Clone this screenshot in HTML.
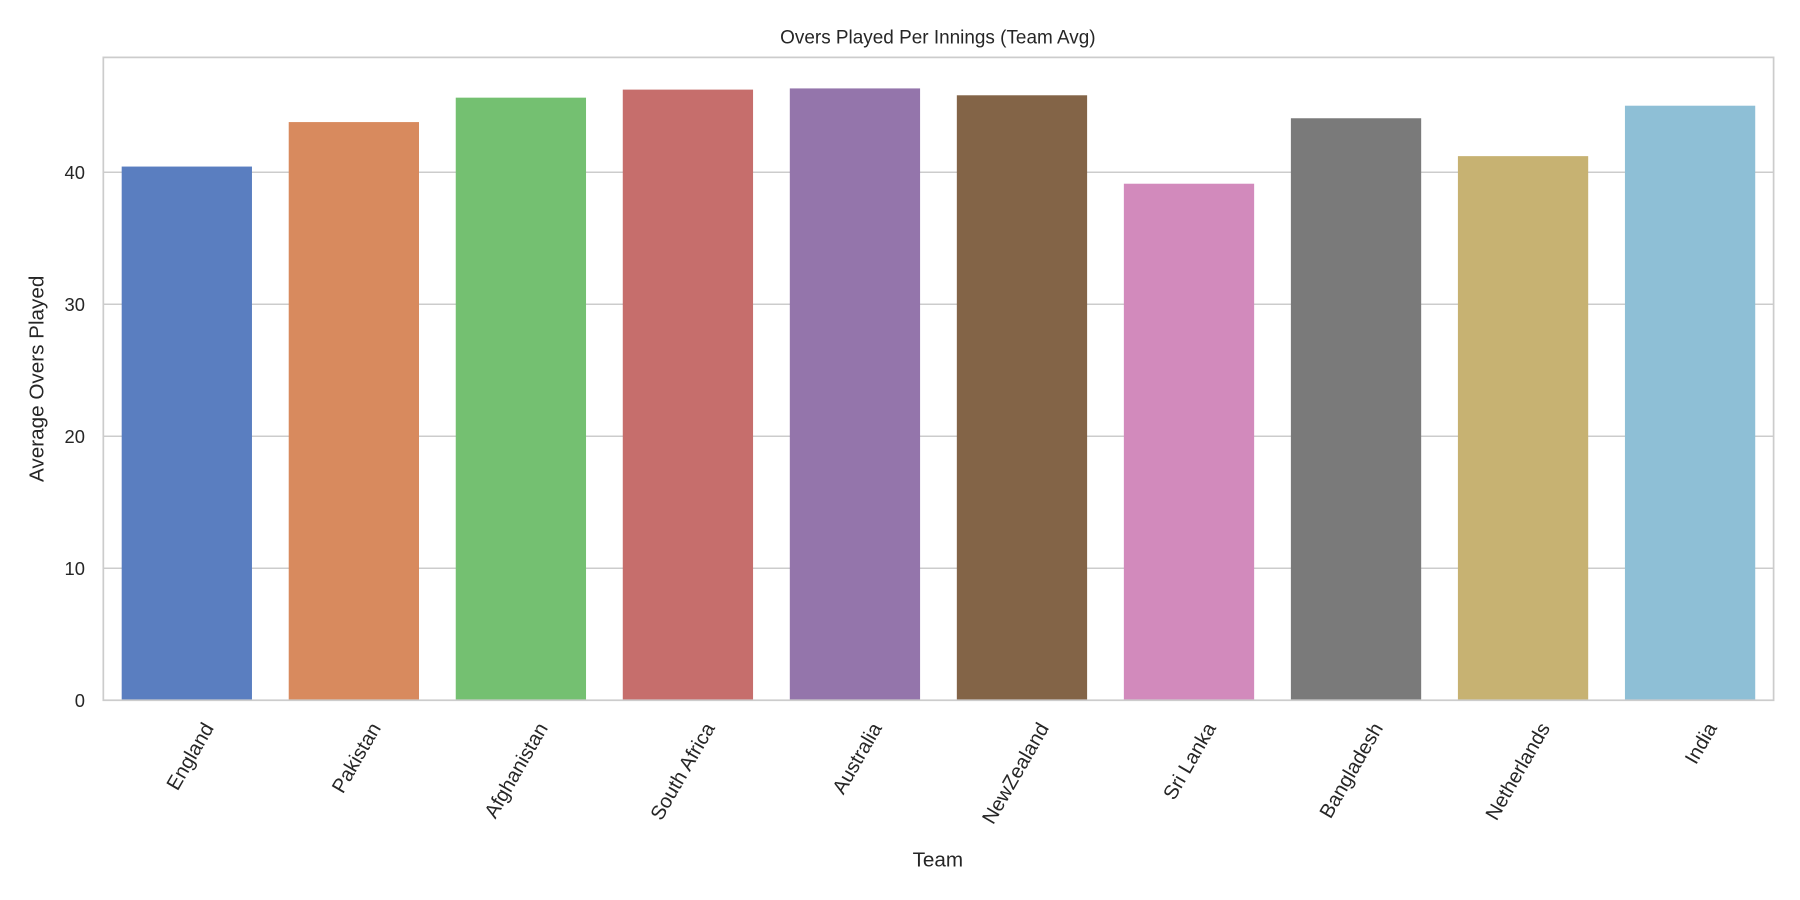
<!DOCTYPE html>
<html><head><meta charset="utf-8"><style>
html,body{margin:0;padding:0;background:#fff;}
svg{display:block;font-family:"Liberation Sans",Arial,sans-serif;}
</style></head><body>
<svg id="chart" width="1800" height="900" viewBox="0 0 1568 784" xmlns="http://www.w3.org/2000/svg">
<rect width="1568" height="784" fill="#fff"/>
<g id="grid"></g>
<g id="bars"></g>
<rect x="90" y="50" width="1455" height="560" fill="none" stroke="#cccccc" stroke-width="1.5"/>
<g id="yticks"></g>
<g id="xticks"></g>
<text x="817" y="38" text-anchor="middle" font-size="16.5" fill="#262626">Overs Played Per Innings (Team Avg)</text>
<text transform="translate(38,330) rotate(-90)" text-anchor="middle" font-size="18" fill="#262626">Average Overs Played</text>
<text x="817" y="755" text-anchor="middle" font-size="18" fill="#262626">Team</text>
</svg>
<script>
const categories = ["England","Pakistan","Afghanistan","South Africa","Australia","NewZealand","Sri Lanka","Bangladesh","Netherlands","India"];
const values = [40.43,43.8,45.65,46.26,46.35,45.83,39.13,44.09,41.22,45.04];
const colors = ["#5a7ec0","#d88a5e","#74c071","#c66e6c","#9475ab","#836447","#d28abc","#7a7a7a","#c7b272","#8ebfd6"];
const yTicks = [0,10,20,30,40];
const NS="http://www.w3.org/2000/svg";
const L=90,R=1545,T=50,B=610,YMAX=48.7;
function y(v){return B-(v/YMAX)*(B-T);}
const slot=(R-L)/categories.length;
function x(i){return L+slot*i;}
const grid=document.getElementById('grid'),bars=document.getElementById('bars'),yt=document.getElementById('yticks'),xt=document.getElementById('xticks');
yTicks.forEach(t=>{
  const ln=document.createElementNS(NS,'line');
  
  
  ln.setAttribute('x1',L);ln.setAttribute('x2',R);ln.setAttribute('y1',y(t));ln.setAttribute('y2',y(t));
  ln.setAttribute('stroke','#cccccc');ln.setAttribute('stroke-width','1.3');
  grid.appendChild(ln);
  const tx=document.createElementNS(NS,'text');
  
  
  tx.setAttribute('x',L-16);tx.setAttribute('y',y(t)+6);tx.setAttribute('text-anchor','end');
  tx.setAttribute('font-size','16');tx.setAttribute('fill','#262626');tx.textContent=t;
  yt.appendChild(tx);
});
categories.forEach((c,i)=>{
  const w=slot*0.78;
  const r=document.createElementNS(NS,'rect');
  
  
  r.setAttribute('x',x(i)+slot*0.11);r.setAttribute('width',w);
  r.setAttribute('y',y(values[i]));r.setAttribute('height',B-y(values[i]));
  r.setAttribute('fill',colors[i]);
  bars.appendChild(r);
  const cx=x(i)+slot/2+24, cy=B+24;
  const tx=document.createElementNS(NS,'text');
  
  
  tx.setAttribute('transform','translate('+cx+','+cy+') rotate(-60)');
  tx.setAttribute('text-anchor','end');tx.setAttribute('font-size','17.5');tx.setAttribute('fill','#262626');
  tx.textContent=c;
  xt.appendChild(tx);
});
</script>
</body></html>
